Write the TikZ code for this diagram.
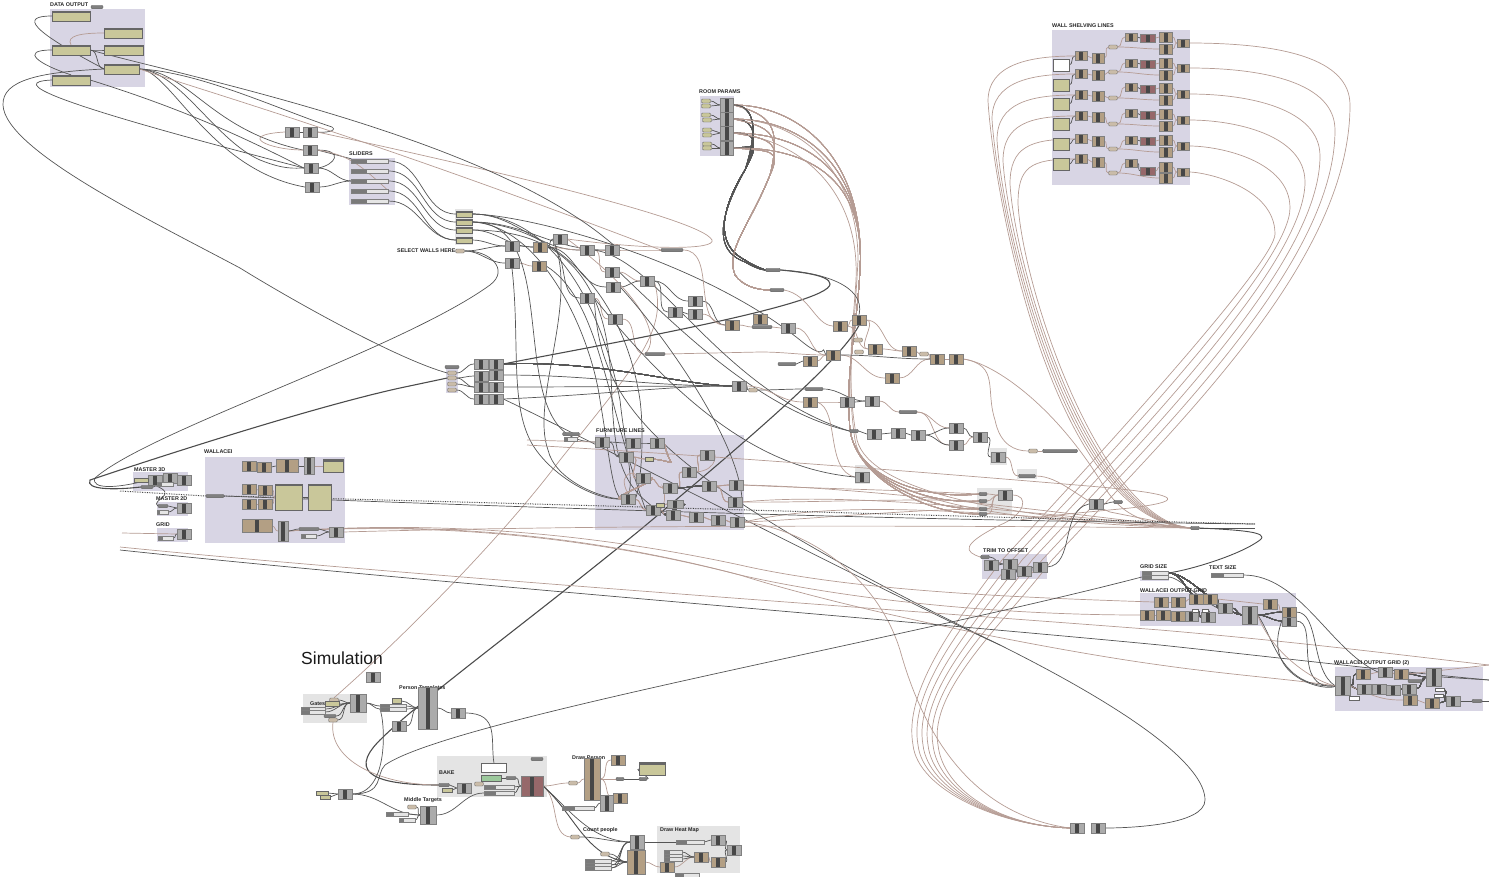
\documentclass[tikz,border=0pt]{standalone}
\usepackage{fontspec}
\setmainfont{Liberation Sans}
\definecolor{grpv}{HTML}{D8D5E4}
\definecolor{grpg}{HTML}{E4E4E4}
\definecolor{ctn}{HTML}{B39F84}
\definecolor{crd}{HTML}{96686A}
\definecolor{khk}{HTML}{C9C79A}
\definecolor{cgr}{HTML}{ABABAB}
\definecolor{wbr}{HTML}{B59C94}
\definecolor{wdk}{HTML}{555555}
\pgfdeclarelayer{grplayer}
\pgfdeclarelayer{wirelayer}
\pgfsetlayers{grplayer,wirelayer,main}
\tikzset{
	comp/.style={draw=black!50, fill=cgr, minimum width=14pt, minimum height=10.5pt, inner sep=0pt,
		path picture={\fill[black!72] ([xshift=-2.4pt]path picture bounding box.south) rectangle ([xshift=2.4pt]path picture bounding box.north);}},
	ctan/.style={comp, fill=ctn},
	cred/.style={comp, fill=crd},
	pill/.style={draw=black!60, fill=black!50, rounded corners=1.2pt, minimum width=#1, minimum height=3.5pt, inner sep=0pt},
	pill/.default=20pt,
	tpill/.style={draw=black!60, fill=ctn!70, rounded corners=1.2pt, minimum width=9pt, minimum height=4pt, inner sep=0pt},
	panel/.style={draw=black!60, fill=khk, inner sep=0pt},
	dpanel/.style={panel, path picture={\fill[black!60] (path picture bounding box.north west) rectangle ([yshift=-2.2pt]path picture bounding box.north east);}},
	slider/.style={draw=black!50, fill=black!10, minimum width=#1, minimum height=4pt, inner sep=0pt,
		path picture={\fill[black!52] (path picture bounding box.south west) rectangle ([xshift=-3pt]path picture bounding box.north);}},
	slider/.default=30pt,
	note/.style={draw=black!60, fill=white, inner sep=0pt},
	lab/.style={font=\fontsize{5.4}{6}\selectfont\bfseries, inner sep=0pt, anchor=west, text=black!85},
	wd/.style={draw=wdk, line width=0.7pt},
	wk/.style={draw=black!70, line width=1.1pt},
	wb/.style={draw=wbr, line width=0.7pt},
}
\newcommand{\wire}[3][wd]{\draw[#1] (#2.east) to[out=0,in=180] (#3.west);}
\begin{document}
\begin{tikzpicture}[x=1pt,y=-1pt]
	\useasboundingbox (0,0) rectangle (1489,876);
	% groups
	\begin{pgfonlayer}{grplayer}
		\foreach \n/\xa/\ya/\xb/\yb in {gdata/50/9/145/87, gslid/349/158/395/205, groom/700/96/734/156, gwall/1052/30/1190/185,
			gwal/205/457/345/543, gm3/133/472/188/491, gm2/157/502/188/516, ggrid/157/528/188/542, gfurn/595/435/744/530,
			gtrim/982/554/1047/579, ggs/1140/571/1169/581, gout/1140/593/1296/626, gout2/1335/667/1483/711, gsel/446/366/458/393}
			\fill[grpv] (\xa,\ya) rectangle (\xb,\yb);
		\foreach \n/\xa/\ya/\xb/\yb in {ggate/303/694/367/723, gbake/437/756/547/797, gheat/657/826/740/873, gq/455/209/473/245,
			gpts/977/488/1012/515, gk1/855/465/870/484, gk2/990/448/1007/465, gk3/1017/469/1037/479}
			\fill[grpg] (\xa,\ya) rectangle (\xb,\yb);
	\end{pgfonlayer}
	% labels
	\foreach \x/\y/\t in {50/5/DATA OUTPUT, 349/154/SLIDERS, 699/92/ROOM PARAMS, 1052/26/WALL SHELVING LINES, 397/251/SELECT WALLS HERE,
		204/452/WALLACEI, 134/470/MASTER 3D, 156/499/MASTER 2D, 156/525/GRID, 596/431/FURNITURE LINES, 983/551/TRIM TO OFFSET,
		1140/567/GRID SIZE, 1209/568/TEXT SIZE, 1140/591/WALLACEI OUTPUT GRID, 1334/663/WALLACEI OUTPUT GRID (2),
		399/688/Person Templates, 439/773/BAKE, 404/800/Middle Targets, 572/758/Draw Person, 583/830/Count people, 660/830/Draw Heat Map, 310/704/Gates}
		\node[lab] at (\x,\y) {\t};
	\node[font=\fontsize{17.5}{19}\selectfont, inner sep=0pt, anchor=west, text=black!90] (tsim) at (301,658) {Simulation};
	% data output and sliders
	\foreach \n/\x/\y/\w in {da/71/16/38, db/123/33/38, dc/71/50/38, dd/124/50/39, de/122/69/35, df/71/80/38}
		\node[dpanel, minimum width=\w, minimum height=10pt] (\n) at (\x,\y) {};
	\node[pill=12pt] (dsel) at (97,7) {};
	\foreach \n/\y in {s1/161, s2/171, s3/181, s4/191, s5/201}
		\node[slider=37pt] (\n) at (370,\y) {};
	\foreach \n/\y in {q1/214, q2/222, q3/230, q4/240}
		\node[dpanel, minimum width=16pt, minimum height=6pt] (\n) at (464,\y) {};
	\node[tpill] (qp) at (460,251) {};
	% grey components
	\foreach \n/\x/\y in {c1/292/132, c2/310/132, c3/310/150, c4/311/168, c5/312/187,
		u1/512/246, u2/512/263, u3/560/239, u4/587/250, u5/612/250, u6/612/272, u7/613/287, u8/587/298, u9/647/281, u10/615/319,
		u11/675/312, u12/695/301, u13/695/314, u14/788/328, v1/739/386, v2/847/402, v3/872/401, v4/874/434, v5/898/433, v6/918/435,
		v7/956/428, v8/956/445, v9/980/437, v10/998/457, v11/862/477, v12/1005/495,
		k1/481/364, k2/481/376, k3/481/387, k4/481/399, k5/496/364, k6/496/375, k7/496/387, k8/496/399,
		f1/602/442, f2/633/443, f3/657/443, f4/626/457, f5/707/455, f6/689/472, f7/643/478, f8/670/488, f9/709/486, f10/736/485,
		f11/735/502, f12/628/499, f13/653/510, f14/673/515, f15/696/517, f16/718/520, f17/737/522,
		t1/1010/564, t2/1024/571, t3/1040/567, t4/991/565, t5/1008/574, x1/1096/504, cbl/1077/828, cbr/1098/828,
		m3a/155/480, m3b/170/478, m3c/184/480, m2a/184/508, gra/184/534, wc/336/532,
		o1/1225/608, o3/1289/621, o4/1191/616, o5/1208/617, p2/1385/672, p4/1364/689,
		p5/1379/689, p6/1393/690, p7/1409/689, p8/1453/701,
		n1/373/677, n4/399/726, n5/458/713, n6/464/788, n7/345/794, n11/718/840, n12/734/850}
		\node[comp] (\n) at (\x,\y) {};
	\foreach \n/\x/\y/\w/\h in {n2/358/703/16/18, n3/428/708/19/42, n8/428/815/16/18, n9/607/803/13/16, n10/637/842/14/14, wa/309/466/10/17,
		wb/283/531/10/20, p1/1343/686/15/19, p3/1434/677/15/18, o2/1250/615/15/18, z1/675/504/16/8}
		\node[comp, minimum width=\w, minimum height=\h] (\n) at (\x,\y) {};
	% tan components
	\foreach \n/\x/\y in {u20/540/247, u21/539/266, u22/732/325, u23/760/319, u24/810/361, u25/833/355, u26/840/326, u27/859/320, u28/875/349,
		u29/892/378, u30/909/351, u31/937/359, u32/956/359, u33/810/402,
		wd1/249/466, wd2/264/467, wd3/249/489, wd4/265/490, wd5/249/504, wd6/265/504,
		o6/1161/602, o7/1178/602, o8/1196/599, o9/1210/599, o10/1270/604, o11/1289/612, o12/1147/615, o13/1163/615, o14/1178/616,
		p9/1363/674, p10/1401/674, p11/1410/700, p12/1432/703, n13/618/760, n14/620/798, n15/701/857, n16/718/862, n17/667/867}
		\node[ctan] (\n) at (\x,\y) {};
	\node[ctan, minimum width=22pt, minimum height=13pt] (wd7) at (287,466) {};
	\node[ctan, minimum width=30pt, minimum height=13pt] (wd8) at (257,526) {};
	\node[ctan, minimum width=16pt, minimum height=42pt] (n18) at (592,779) {};
	\node[ctan, minimum width=18pt, minimum height=24pt] (n19) at (636,862) {};
	\node[cred, minimum width=22pt, minimum height=20pt] (n20) at (532,786) {};
	% pills
	\foreach \n/\x/\y/\w in {a1/672/250/22, a2/655/354/20, a3/762/327/20, a4/787/364/18, a5/773/270/15, a6/777/290/14, a7/814/389/18, a8/908/412/18,
		a9/854/431/9, a10/1060/451/35, a11/1027/476/17, a12/1195/528/9, a13/1118/502/9, a14/215/496/18, a15/309/529/20, a16/985/557/9,
		a17/537/759/12, a18/511/778/10, a19/444/785/11, a20/620/779/8, a21/643/779/8, a22/1415/681/14, a23/1477/701/10, a24/330/716/12,
		a25/571/434/17, a26/147/487/12, a27/452/367/14, a28/983/494/8, a29/983/501/8, a30/983/509/8, a31/983/514/8, a32/163/506/10}
		\node[pill=\w] (\n) at (\x,\y) {};
	\foreach \n/\x/\y in {b1/452/373, b2/452/378, b3/452/384, b4/452/390, b5/858/340, b6/859/352, b7/924/354, b8/753/390, b9/1033/451,
		b10/334/700, b11/333/720, b12/479/784, b13/412/807, b14/573/783, b15/575/837, b16/605/854}
		\node[tpill] (\n) at (\x,\y) {};
	\foreach \n/\x/\y in {r1/706/101, r2/706/106, r3/706/115, r4/707/120, r5/707/130, r6/707/135, r7/707/144, r8/707/148}
		\node[panel, rounded corners=1pt, minimum width=9pt, minimum height=4pt] (\n) at (\x,\y) {};
	\foreach \n/\y in {rc1/105, rc2/119, rc3/133, rc4/148}
		\node[comp, minimum width=13pt, minimum height=14pt] (\n) at (727,\y) {};
	% sliders and panels elsewhere
	\foreach \n/\x/\y/\w in {g1/1155/573/26, g2/1155/577/26, g3/1227/575/32, h1/309/536/15, h2/165/484/16, h3/163/512/11, h4/166/538/15,
		h5/393/706/26, h6/393/709/26, h7/397/814/22, h8/499/787/30, h9/499/793/30, h10/578/808/32, h11/690/842/28, h12/673/852/18, h13/673/856/18,
		h14/673/859/18, h15/598/861/26, h16/598/865/26, h17/598/868/26, h18/313/709/24, h19/313/712/24, h20/687/875/24, h21/407/820/16, h22/571/439/13}
		\node[slider=\w] (\n) at (\x,\y) {};
	\foreach \n/\x/\y/\w/\h in {w1/333/466/20/13, w2/289/497/27/26, w3/320/497/23/26, w10/652/769/26/13}
		\node[dpanel, minimum width=\w, minimum height=\h] (\n) at (\x,\y) {};
	\foreach \n/\x/\y/\w/\h in {w4/141/480/14/4, w5/649/459/8/4, w6/660/505/8/4,
		w7/332/704/14/5, w8/397/701/9/5, w11/322/793/12/4, w12/325/797/10/4, w13/447/790/10/4}
		\node[panel, minimum width=\w, minimum height=\h] (\n) at (\x,\y) {};
	\node[panel, fill=green!30!gray!60, minimum width=20pt, minimum height=6pt] (w9) at (491,778) {};
	\foreach \n/\x/\y/\w/\h in {z2/1354/698/10/4, z3/1440/690/9/3, z4/1439/696/9/3, z5/1195/611/6/3, z6/1205/611/6/3, z7/494/768/25/9}
		\node[note, minimum width=\w, minimum height=\h] (\n) at (\x,\y) {};
	% free ends
	\coordinate (e1) at (120,491);
	\coordinate (e2) at (122,533);
	\coordinate (e3) at (120,547);
	\coordinate (e4) at (120,550);
	\coordinate (e5) at (1255,524);
	\coordinate (e6) at (1255,528);
	\coordinate (e7) at (1489,665);
	\coordinate (e8) at (1489,680);
	\coordinate (e9) at (1489,701);
	\coordinate (e10) at (527,440);
	\coordinate (e11) at (527,445);
	% wall shelving rows
	\foreach \r/\py/\ay/\by/\ly/\cy/\dy/\ey/\fy/\gy/\bx [evaluate=\r as \rx using 1350-15*(\r-1), evaluate=\r as \px using 1052-10*(\r-1), evaluate=\r as \mx using 938-5*(\r-1), evaluate=\r as \lx using 1040+10*\r]
		in {1/65/56/58/47/37/38/37/49/43/988, 2/85/74/75/72/63/64/63/75/68/992, 3/104/95/96/98/87/89/88/100/94/997,
		4/124/116/117/124/113/115/114/126/120/1003, 5/144/139/141/149/140/141/140/152/146/1010, 6/164/159/162/173/163/171/167/178/172/1018} {
		\ifnum\r=1 \def\ps{note}\else\def\ps{panel}\fi
		\node[\ps, minimum width=16pt, minimum height=12pt] (wp\r) at (1061,\py) {};
		\node[ctan, minimum width=12pt, minimum height=9pt] (wa\r) at (1081,\ay) {};
		\node[ctan, minimum width=12pt, minimum height=10.5pt] (wb\r) at (1098,\by) {};
		\node[tpill] (wl\r) at (1113,\ly) {};
		\node[ctan, minimum width=12pt, minimum height=8pt] (wc\r) at (1131,\cy) {};
		\node[cred, minimum width=15pt, minimum height=8pt] (wm\r) at (1148,\dy) {};
		\node[ctan, minimum width=13pt, minimum height=10.5pt] (we\r) at (1166,\ey) {};
		\node[ctan, minimum width=13pt, minimum height=10.5pt] (wf\r) at (1166,\fy) {};
		\node[ctan, minimum width=12pt, minimum height=8pt] (wg\r) at (1183,\gy) {};
		\begin{pgfonlayer}{wirelayer}
			\wire{wp\r}{wa\r}
			\wire[wb]{wa\r}{wb\r}
			\wire[wb]{wb\r}{wl\r}
			\wire[wb]{wl\r}{wc\r}
			\wire[wb]{wl\r}{wf\r}
			\wire{wc\r}{wm\r}
			\wire[wb]{wm\r}{we\r}
			\wire[wb]{we\r}{wg\r}
			\wire[wb]{wf\r}{wg\r}
			\draw[wb] (wa\r.west) .. controls (1030,\ay) and (\bx,\ay+8) .. (\bx,\ay+45) .. controls (\bx+5,\ay+130) and (\lx,520) .. (a12.west);
			\draw[wb] (wg\r.east) .. controls (\rx-70,\gy) and (\rx,\gy+15) .. (\rx,\gy+62) .. controls (\rx,260) and (\px+130,420) .. (\px,560)
				.. controls (\px-45,620) and (\mx-10,690) .. (\mx,745) .. controls (\mx+5,790) and (1000,826) .. (cbl.west);
		\end{pgfonlayer}
	}
	\begin{pgfonlayer}{wirelayer}
		% data output
		\draw[wd] (da.west) .. controls (20,16) and (30,30) .. (de.west);
		\draw[wd] (dc.west) .. controls (18,50) and (40,65) .. (df.north);
		\draw[wd] (df.west) .. controls (10,82) and (40,100) .. (c4.west);
		\draw[wd] (de.west) .. controls (40,72) and (2,80) .. (3,105) .. controls (5,150) and (150,220) .. (240,268) .. controls (300,305) and (400,360) .. (b1.west);
		\draw[wb] (db.west) .. controls (80,33) and (66,36) .. (dc.north);
		\wire{dc}{dd}
		\wire{dc}{de}
		\draw[wd] (df.east) .. controls (170,105) and (230,130) .. (c4.west);
		\draw[wd] (de.east) .. controls (200,72) and (280,110) .. (332,127) .. controls (338,131) and (325,133) .. (c2.east);
		\draw[wd] (de.east) .. controls (190,72) and (210,130) .. (c3.west);
		\draw[wd] (de.east) .. controls (180,72) and (215,140) .. (260,160) .. controls (285,170) and (295,168) .. (c4.west);
		\draw[wd] (de.east) .. controls (170,70) and (210,170) .. (c5.west);
		\draw[wb] (de.east) .. controls (200,90) and (360,135) .. (a1.west);
		\draw[wb] (c1.west) .. controls (235,135) and (270,150) .. (c3.west);
		\draw[wb] (c2.east) .. controls (400,150) and (700,215) .. (712,240) .. controls (716,250) and (650,250) .. (u3.east);
		\draw[wd] (c3.east) .. controls (345,150) and (335,165) .. (c4.east);
		\draw[wd] (c3.east) -- (s1.north west);
		\draw[wd] (c4.east) to[out=0,in=180] (s3.west);
		\draw[wb] (c3.east) .. controls (350,155) and (360,165) .. (s4.east);
		\wire{c5}{s3}
		\wire{c1}{c2}
		% sliders to selectors
		\wire{s1}{q1}
		\wire{s2}{q2}
		\wire{s3}{q3}
		\wire{s4}{q4}
		\wire{s5}{q4}
		% walls
		\wire{q1}{u4}
		\wire{q2}{u5}
		\wire{q3}{u20}
		\wire{qp}{u1}
		\wire{qp}{u2}
		\wire{q4}{u1}
		\wire{u1}{u20}
		\wire[wb]{u2}{u21}
		\wire{u20}{u3}
		\wire[wb]{u20}{u4}
		\wire[wb]{u4}{u5}
		\wire{u20}{u7}
		\wire{u20}{u8}
		\wire[wb]{u4}{u6}
		\wire[wb]{u5}{a1}
		\wire[wb]{u6}{u9}
		\wire{u7}{u9}
		\wire[wb]{u8}{u10}
		\wire{u9}{u12}
		\wire{u9}{u11}
		\wire{u11}{u13}
		\wire[wb]{u13}{u22}
		\wire{u12}{u22}
		\wire[wb]{u10}{a2}
		\draw[wb] (a2.east) -- (760,352) to[out=0,in=180] (u25.west);
		\draw[wb] (u3.east) .. controls (650,300) and (660,340) .. (a2.west);
		\draw[wb] (u9.east) .. controls (668,330) and (640,360) .. (560,460) .. controls (500,540) and (400,640) .. (b10.north);
		\wire{q2}{f1}
		\draw[wd] (q2.east) .. controls (560,225) and (625,300) .. (640,400) .. controls (645,440) and (640,490) .. (f12.east);
		\draw[wd] (q3.east) .. controls (600,230) and (610,330) .. (612,400) .. controls (615,460) and (622,490) .. (f14.west);
		\draw[wd] (q1.east) .. controls (550,215) and (600,300) .. (620,400) .. controls (625,450) and (640,500) .. (f12.west);
		\draw[wd] (q2.east) .. controls (540,225) and (590,330) .. (600,400) .. controls (610,460) and (612,490) .. (f12.west);
		\draw[wd] (u21.east) .. controls (600,300) and (605,400) .. (f13.west);
		\draw[wd] (u4.east) .. controls (660,260) and (720,390) .. (a9.west);
		\draw[wd] (u6.east) .. controls (680,330) and (760,410) .. (a9.west);
		\draw[wd] (u7.east) .. controls (660,330) and (740,440) .. (f11.east);
		\draw[wd] (q1.east) .. controls (530,215) and (700,260) .. (800,340) .. controls (830,365) and (820,340) .. (u25.west);
		\draw[wd] (dc.east) .. controls (200,80) and (500,140) .. (u5.east);
		\draw[wd] (qp.east) .. controls (490,250) and (510,270) .. (490,285) .. controls (400,350) and (150,430) .. (95,478) .. controls (90,490) and (120,488) .. (m3a.west);
		\draw[wd] (u8.east) .. controls (600,400) and (640,470) .. (1000,645) .. controls (1150,720) and (1205,770) .. (1205,800) .. controls (1205,825) and (1130,828) .. (cbr.east);
		\draw[wd] (u2.south) .. controls (520,340) and (510,400) .. (530,440) .. controls (545,470) and (590,500) .. (f12.west);
		\draw[wd] (u3.west) .. controls (580,300) and (530,400) .. (548,450) .. controls (555,480) and (600,498) .. (f12.west);
		% selector group
		\foreach \a/\b in {b1/k1, b2/k2, b3/k3, b4/k4, b2/k3} \wire{\a}{\b}
		\foreach \a/\b in {k1/k5, k2/k6, k3/k7, k4/k8} \wire{\a}{\b}
		\draw[wd] (k5.east) .. controls (600,360) and (680,385) .. (v1.west);
		\wire{k6}{v1}
		\wire{k7}{v1}
		\draw[wd] (k8.east) .. controls (600,395) and (680,385) .. (v1.west);
		\draw[wk] (b2.west) -- (400,388) .. controls (300,410) and (120,470) .. (90,480) .. controls (85,490) and (115,490) .. (a26.west);
		\draw[wk] (k5.east) .. controls (600,345) and (830,305) .. (830,284) .. controls (830,275) and (800,272) .. (a5.east);
		\draw[wd] (k8.east) .. controls (560,425) and (900,600) .. (1000,645);
		% room params
		\foreach \a/\b in {r1/rc1, r2/rc1, r3/rc2, r4/rc2, r5/rc3, r6/rc3, r7/rc4, r8/rc4} \wire{\a}{\b}
		\foreach \a/\t/\k in {rc1/a28/0, rc2/a29/1, rc3/a30/2, rc4/a31/3} {
			\draw[wd] (\a.east) .. controls (755,\k*14+105) and (760,\k*2+135) .. (745,170) .. controls (720,210) and (715,245) .. (745,260) .. controls (752,265) and (760,268) .. (a5.west);
			\draw[wb] (\a.east) .. controls (770,\k*12+115) and (782,\k*8+125) .. (770,175) .. controls (750,225) and (725,250) .. (735,275) .. controls (742,285) and (755,290) .. (a6.west);
			\draw[wb] (\a.east) .. controls (800,\k*14+105) and (866,\k*4+160) .. (860,270) .. controls (856,340) and (845,370) .. (850,430) .. controls (857,480) and (930,\k*5+500) .. (\t.west);
		}
		\draw[wd] (rc1.east) .. controls (755,105) and (758,130) .. (745,170) .. controls (720,215) and (712,250) .. (745,262) .. controls (750,265) and (760,270) .. (a5.west);
		\draw[wb] (rc2.east) .. controls (800,120) and (858,170) .. (858,260) .. controls (854,340) and (846,380) .. (855,440) .. controls (865,500) and (1000,522) .. (a12.west);
		\draw[wb] (rc3.east) .. controls (800,140) and (860,190) .. (856,280) .. controls (852,340) and (846,380) .. (857,440) .. controls (870,490) and (1000,518) .. (a12.west);
		% middle chain
		\draw[wd] (a5.east) .. controls (820,272) and (866,285) .. (u27.north);
		\draw[wb] (a6.east) .. controls (810,295) and (815,325) .. (u26.west);
		\wire[wb]{u22}{a3}
		\wire[wb]{a3}{u14}
		\wire[wb]{u14}{u25}
		\wire[wb]{a1}{u22}
		\wire{a4}{u24}
		\wire[wb]{u24}{u25}
		\draw[wk] (u27.south) .. controls (840,360) and (760,430) .. (640,530) .. controls (530,620) and (420,700) .. (380,740) .. controls (345,775) and (380,785) .. (a19.west);
		\wire[wb]{u26}{u27}
		\wire[wb]{u27}{u28}
		\wire[wb]{u26}{u28}
		\wire[wb]{u25}{u29}
		\wire[wb]{u28}{u30}
		\wire[wb]{u27}{u30}
		\wire[wb]{u29}{u31}
		\wire[wb]{u30}{b7}
		\wire[wb]{b7}{u31}
		\wire[wb]{u31}{u32}
		\wire{u25}{u31}
		\draw[wb] (u32.east) .. controls (990,362) and (1050,400) .. (1100,480) .. controls (1115,505) and (1130,525) .. (a12.west);
		\draw[wb] (u32.east) .. controls (1000,365) and (985,390) .. (995,420) .. controls (1000,445) and (1015,451) .. (b9.west);
		\wire[wb]{b9}{a10}
		\wire{v1}{b8}
		\wire{b8}{a7}
		\wire{a7}{v3}
		\wire[wb]{v1}{u33}
		\wire[wb]{u33}{v2}
		\wire{v2}{v3}
		\wire[wb]{v3}{a8}
		\wire[wb]{a8}{v7}
		\wire[wb]{a8}{v8}
		\draw[wb] (u33.east) .. controls (840,410) and (825,470) .. (v11.west);
		\wire{a9}{v4}
		\wire{v4}{v5}
		\wire{v5}{v6}
		\wire{v6}{v7}
		\wire{v6}{v8}
		\wire{v7}{v9}
		\wire[wb]{v8}{v9}
		\wire{v9}{v10}
		\wire[wb]{v10}{a11}
		\draw[wb] (a11.east) .. controls (1060,476) and (1080,500) .. (1110,512) -- (a12.west);
		\draw[wd] (u8.east) .. controls (700,430) and (780,470) .. (v11.west);
		% furniture
		\draw[wb] (e10) -- (f1.west);
		\draw[wb] (e11) .. controls (700,455) and (900,470) .. (1100,487) .. controls (1190,495) and (1180,502) .. (1130,508) .. controls (1090,512) and (1050,515) .. (1020,520);
		\foreach \a/\b in {f1/f2, f2/f3, f1/f4} \wire{\a}{\b}
		\foreach \a/\b in {f4/w5, f4/f7, f7/f8, f8/f6, f6/f5, f9/f10, f9/f11, f12/f13, f13/f14, f14/f15, f15/f16, f16/f17, w6/z1} \wire[wb]{\a}{\b}
		\wire{f8}{f9}
		\wire{z1}{f14}
		\wire[wb]{f7}{f12}
		\draw[wb] (w5.east) .. controls (680,462) and (670,470) .. (f3.east);
		\draw[wb] (f12.north) .. controls (615,470) and (640,470) .. (f7.west);
		\draw[wb] (f6.east) .. controls (720,470) and (715,450) .. (f5.east);
		\draw[wb] (f13.east) .. controls (670,500) and (660,480) .. (f8.west);
		\foreach \a/\k in {f10/0, f11/1, f17/2} \draw[wb] (\a.east) .. controls (850,\k*5+487) and (1000,\k*5+505) .. (a12.west);
		\draw[wb] (f10.east) .. controls (800,488) and (900,490) .. (a28.west);
		\draw[wb] (f11.east) .. controls (800,503) and (900,498) .. (a29.west);
		\draw[wb] (f17.east) .. controls (800,520) and (900,510) .. (a30.west);
		\draw[wb] (f17.east) .. controls (800,528) and (875,570) .. (900,650) .. controls (925,740) and (975,815) .. (cbl.west);
		\wire[wb]{a28}{v12}
		\wire[wb]{a29}{v12}
		\wire[wb]{a30}{v12}
		\wire[wb]{a31}{v12}
		\draw[wb] (v12.east) .. controls (1030,495) and (1025,515) .. (1000,525) .. controls (960,545) and (965,552) .. (a16.west);
		% master and wallacei
		\draw[wd, densely dotted, line width=1pt, draw=black!75] (e1) -- (a14.west);
		\draw[wd, densely dotted, line width=1pt, draw=black!75] (a14.east) .. controls (600,505) and (900,515) .. (e5);
		\draw[wd] (a14.east) .. controls (600,510) and (900,520) .. (e5);
		\draw[wb] (wb.east) .. controls (450,520) and (600,535) .. (740,565) .. controls (850,590) and (1000,597) .. (o6.west);
		\draw[wb] (wb.east) .. controls (450,521) and (600,538) .. (740,575) .. controls (850,600) and (1000,615) .. (o12.west);
		\draw[wb] (wb.east) .. controls (450,522) and (600,539) .. (740,575) .. controls (850,610) and (1050,650) .. (1160,665) .. controls (1230,675) and (1300,680) .. (p1.west);
		\draw[wb] (wc.east) .. controls (600,525) and (900,525) .. (a12.west);
		\draw[wd] (a12.east) -- (e6);
		\draw[wk, line width=0.9pt] (a12.east) .. controls (1240,530) and (1270,532) .. (1260,540) .. controls (1240,555) and (1190,570) .. (g1.east);
		\draw[wb] (e2) -- (gra.west);
		\wire{m3a}{m3b}
		\wire{m3b}{m3c}
		\wire{w4}{m3a}
		\wire{a26}{m3b}
		\wire{h2}{m3c}
		\draw[wd] (m3a.south) .. controls (180,495) and (150,500) .. (a32.west);
		\wire{a32}{m2a}
		\wire{h3}{m2a}
		\wire{h4}{gra}
		\wire{wd1}{wd2}
		\wire{wd2}{wd7}
		\wire{wd7}{wa}
		\wire[wb]{wa}{w1}
		\wire[wb]{wd3}{wd4}
		\wire[wb]{wd5}{wd6}
		\wire[wb]{wd4}{w2}
		\wire[wb]{wd6}{w2}
		\wire{w2}{w3}
		\wire[wb]{wd8}{wb}
		\wire{wb}{a15}
		\wire{a15}{wc}
		\wire{h1}{wc}
		% long bottom lines
		\draw[wb] (e3) .. controls (400,575) and (900,610) .. (1160,630) .. controls (1300,642) and (1400,655) .. (e7);
		\draw[wd] (e4) .. controls (400,580) and (900,620) .. (1160,645) .. controls (1300,660) and (1400,672) .. (e8);
		\draw[wd] (a23.east) -- (e9);
		% trim
		\wire{a16}{t1}
		\wire{t4}{t1}
		\wire{t1}{t2}
		\wire{t5}{t2}
		\wire{t2}{t3}
		\draw[wd] (t3.east) .. controls (1075,565) and (1060,510) .. (x1.west);
		\wire{x1}{a13}
		% output grid
		\foreach \a/\b in {o6/o7, o7/o8, o8/o9, o12/o13, o13/o14, o14/o4, o4/o5, o10/o11, p9/p2, p2/p10, p11/p12, p4/p5, p5/p6} \wire[wb]{\a}{\b}
		\foreach \a/\b in {o9/o1, o1/o2, o2/o3, o2/o11, z5/o5, z6/o5, p6/p7, p7/p3, p1/p4, p1/p9, p12/p8, z3/p8, z4/p8, p8/a23, a22/p3, p10/p3} \wire{\a}{\b}
		\wire{g1}{o9}
		\draw[wd] (g1.east) .. controls (1190,573) and (1215,610) .. (o2.west);
		\draw[wd] (g2.east) .. controls (1180,577) and (1200,600) .. (o1.west);
		\draw[wd] (g3.east) .. controls (1300,575) and (1330,650) .. (p2.west);
		\draw[wd] (o11.east) .. controls (1320,612) and (1310,670) .. (p1.west);
		\draw[wd] (o3.east) .. controls (1320,621) and (1290,690) .. (p1.west);
		\draw[wd] (o2.east) .. controls (1275,640) and (1280,688) .. (p1.west);
		\draw[wb] (o2.east) .. controls (1270,650) and (1310,680) .. (p1.west);
		\draw[wd] (o3.west) .. controls (1260,680) and (1330,692) .. (p1.west);
		\draw[wb] (p10.east) -- (e7);
		\draw[wd] (p3.east) -- (e8);
		\draw[wb] (o9.east) -- (o10.west);
		\draw[wb] (p1.east) .. controls (1380,700) and (1390,700) .. (p11.west);
		% simulation
		\wire{w7}{n2}
		\wire{b10}{n2}
		\wire{h18}{n2}
		\wire{h19}{n2}
		\wire{a24}{n2}
		\wire{b11}{n2}
		\wire{n2}{h5}
		\wire{n2}{h6}
		\wire{h5}{n3}
		\wire{h6}{n3}
		\wire{w8}{n3}
		\wire{n4}{n3}
		\wire{n3}{n5}
		\draw[wd] (n5.east) .. controls (500,713) and (490,740) .. (z7.north);
		\draw[wb] (b11.south) .. controls (328,760) and (380,785) .. (a19.west);
		\draw[wd] (n7.east) .. controls (385,794) and (375,775) .. (385,765) .. controls (450,720) and (900,640) .. (g2.west);
		\draw[wd] (n7.east) .. controls (390,794) and (385,720) .. (h6.west);
		\wire{w11}{n7}
		\wire{w12}{n7}
		\wire{n7}{n8}
		\wire{b13}{n8}
		\wire{h7}{n8}
		\wire{h21}{n8}
		\wire{n8}{h9}
		\wire{a19}{n6}
		\wire{w13}{n6}
		\wire{a18}{n20}
		\wire{w9}{a18}
		\wire{h8}{n20}
		\wire{h9}{n20}
		\wire[wb]{n20}{b14}
		\wire[wb]{b14}{n18}
		\wire[wb]{n18}{n13}
		\wire[wb]{n18}{a20}
		\wire[wb]{n18}{n14}
		\wire{a20}{a21}
		\wire{a21}{w10}
		\wire{h10}{n9}
		\wire{n9}{n14}
		\draw[wb] (n20.east) .. controls (560,800) and (550,835) .. (b15.west);
		\wire{b15}{n10}
		\draw[wd] (n20.east) .. controls (570,810) and (590,840) .. (n10.west);
		\draw[wk, line width=0.9pt] (n20.east) .. controls (575,815) and (585,855) .. (n19.west);
		\foreach \a in {h15,h16,h17} {\wire{\a}{n10}\wire{\a}{n19}}
		\wire{b16}{n19}
		\wire{n10}{h11}
		\wire{h11}{n11}
		\wire[wb]{n19}{n17}
		\wire[wb]{n17}{n15}
		\wire{h12}{n15}
		\wire{h13}{n15}
		\wire{h14}{n15}
		\wire[wb]{n15}{n16}
		\wire{n11}{n12}
		\wire{n16}{n12}
	\end{pgfonlayer}
\end{tikzpicture}
\end{document}
